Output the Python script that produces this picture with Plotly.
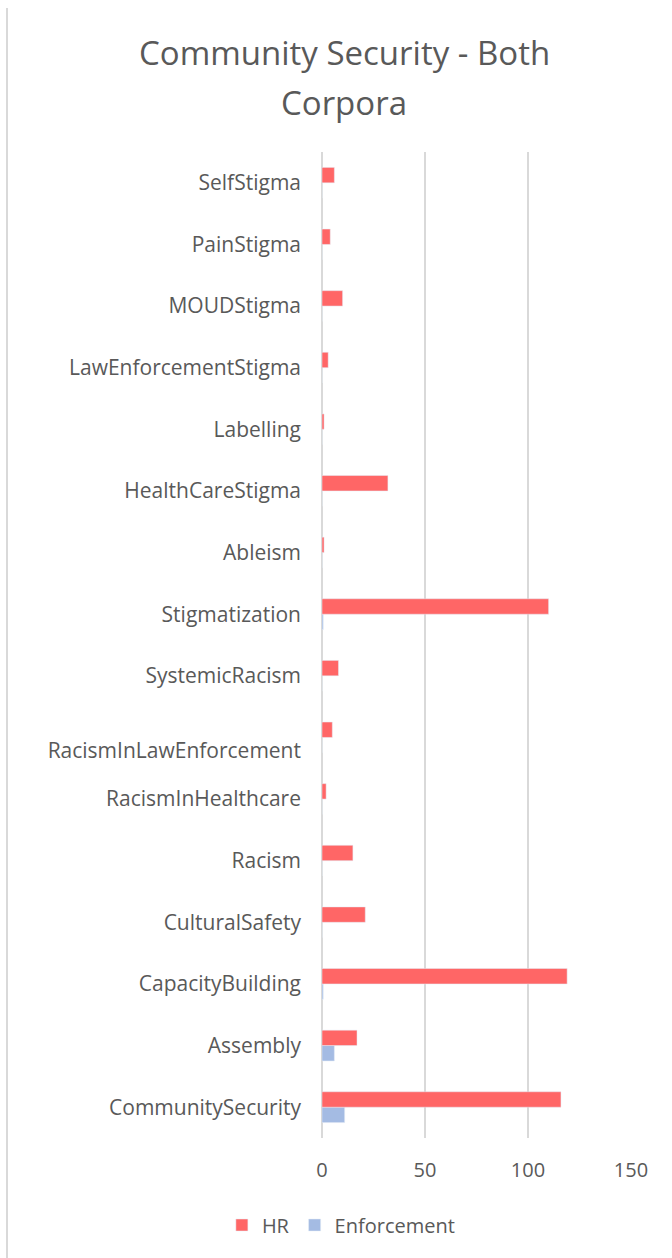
import plotly.graph_objects as go

# Categories listed bottom-to-top, as they appear on the y axis
categories = [
    "CommunitySecurity", "Assembly", "CapacityBuilding", "CulturalSafety",
    "Racism", "RacismInHealthcare", "RacismInLawEnforcement", "SystemicRacism",
    "Stigmatization", "Ableism", "HealthCareStigma", "Labelling",
    "LawEnforcementStigma", "MOUDStigma", "PainStigma", "SelfStigma",
]
tick_labels = [
    "CommunitySecurity", "Assembly", "CapacityBuilding", "CulturalSafety",
    "Racism", "RacismInHealthcare", " <br>RacismInLawEnforcement", "SystemicRacism",
    "Stigmatization", "Ableism", "HealthCareStigma", "Labelling",
    "LawEnforcementStigma", "MOUDStigma", "PainStigma", "SelfStigma",
]
hr_counts = [116, 17, 119, 21, 15, 2, 5, 8, 110, 1, 32, 1, 3, 10, 4, 6]
enforcement_counts = [11, 6, 0.6, 0, 0, 0, 0, 0, 0.6, 0, 0, 0, 0, 0, 0, 0]
x_ticks = [0, 50, 100, 150]
title_lines = ["Community Security - Both", "Corpora"]

TEXT = "#595959"
GRID = "#D9D9D9"
FONT = "Open Sans"

fig = go.Figure()
fig.add_trace(go.Bar(
    name="Enforcement", y=categories, x=enforcement_counts, orientation="h",
    marker=dict(color="#A4BBE3"),
))
fig.add_trace(go.Bar(
    name="HR", y=categories, x=hr_counts, orientation="h",
    marker=dict(color="#FF6666"),
))

W, H = 672, 1258
L, R, T, B = 322, 41, 152, 120
pw, ph = W - L - R, H - T - B

fig.update_layout(
    width=W, height=H,
    margin=dict(l=L, r=R, t=T, b=B),
    paper_bgcolor="white", plot_bgcolor="white",
    font=dict(family=FONT, color=TEXT, size=20),
    barmode="group", bargap=0.5, bargroupgap=0,
    xaxis=dict(
        range=[0, 150], tickvals=x_ticks, ticktext=[str(v) for v in x_ticks],
        showgrid=True, gridcolor=GRID, gridwidth=2,
        zeroline=True, zerolinecolor=GRID, zerolinewidth=2,
        showline=False, ticks="", ticklabelstandoff=18,
        tickfont=dict(size=20, color=TEXT),
    ),
    yaxis=dict(
        type="category", categoryorder="array", categoryarray=categories,
        tickvals=categories, ticktext=tick_labels,
        showgrid=False, zeroline=False, showline=False, ticks="",
        ticklabelstandoff=20,
        tickfont=dict(size=21, color=TEXT),
    ),
    legend=dict(
        orientation="h", traceorder="reversed",
        xref="container", x=0.508, xanchor="center",
        yref="container", y=(H - 1225) / H, yanchor="middle",
        font=dict(size=20, color=TEXT),
        itemwidth=30,
    ),
    showlegend=True,
)

# Two-line chart title
for line, cy in zip(title_lines, [52, 102]):
    fig.add_annotation(
        text=line, showarrow=False,
        xref="paper", yref="paper",
        x=(344 - L) / pw, y=(H - B - cy) / ph,
        xanchor="center", yanchor="middle",
        font=dict(family=FONT, size=33, color=TEXT),
    )

# Chart frame edge along the left side
fig.add_shape(
    type="line", xref="paper", yref="paper",
    x0=(7 - L) / pw, x1=(7 - L) / pw,
    y0=(H - B - 8) / ph, y1=-(B + 5) / ph,
    line=dict(color=GRID, width=2),
)

fig.write_html("out.html")
